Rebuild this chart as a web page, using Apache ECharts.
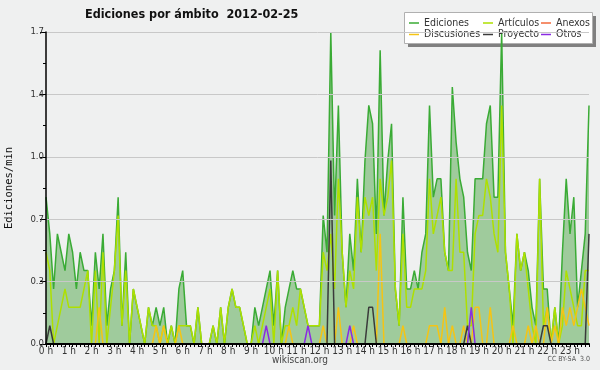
<!DOCTYPE html>
<html><head><meta charset="utf-8">
<script src="https://cdn.jsdelivr.net/npm/echarts@6/dist/echarts.min.js"></script>
<style>
html,body{margin:0;padding:0;background:#efefef;}
#w{position:absolute;left:0;top:0;width:598px;height:368px;border:1px solid #9a9a9a;}
#c{position:absolute;left:-1px;top:-1px;width:600px;height:370px;}
</style></head><body>
<div id="w"><div id="c"></div></div>
<script>
// 10-minute intervals, 144 points for the day (edits per minute)
const hourLabels = ['0 h','1 h','2 h','3 h','4 h','5 h','6 h','7 h','8 h','9 h','10 h','11 h','12 h','13 h','14 h','15 h','16 h','17 h','18 h','19 h','20 h','21 h','22 h','23 h'];
const yTickLabels = ['0.0','0.3','0.7','1.0','1.4','1.7'];
const ediciones = [
0.8,0.6,0.3,0.6,0.5,0.4,0.6,0.5,0.3,0.5,0.4,0.4,
0.1,0.5,0.3,0.6,0.1,0.3,0.4,0.8,0.1,0.5,0,0.3,
0.2,0.1,0,0.2,0.1,0.2,0.1,0.2,0,0.1,0,0.3,
0.4,0.1,0.1,0,0.2,0,0,0,0.1,0,0.2,0,
0.2,0.3,0.2,0.2,0.1,0,0,0.2,0.1,0.2,0.3,0.4,
0.1,0.4,0,0.2,0.3,0.4,0.3,0.3,0.2,0.1,0.1,0.1,
0.1,0.7,0.5,1.7,0.7,1.3,0.5,0.2,0.6,0.4,0.9,0.5,
1.0,1.3,1.2,0.6,1.6,0.7,1.0,1.2,0.3,0.1,0.8,0.3,
0.3,0.4,0.3,0.5,0.6,1.3,0.8,0.9,0.9,0.5,0.4,1.4,
1.1,0.9,0.8,0.5,0.4,0.9,0.9,0.9,1.2,1.3,0.8,0.8,
1.7,0.5,0.3,0.1,0.6,0.4,0.5,0.4,0.2,0.1,0.9,0.3,
0.3,0,0.2,0,0.5,0.9,0.6,0.8,0.2,0.4,0.6,1.3];
const articulos = [
0.5,0.4,0,0.1,0.2,0.3,0.2,0.2,0.2,0.2,0.3,0.4,
0,0.4,0,0.5,0,0.2,0.4,0.7,0.1,0.4,0,0.3,
0.2,0.1,0,0.2,0.1,0.1,0,0.1,0,0.1,0,0.1,
0.1,0.1,0.1,0,0.2,0,0,0,0.1,0,0.2,0,
0.2,0.3,0.2,0.2,0.1,0,0,0.1,0,0.1,0.2,0.3,
0,0.4,0,0.1,0.1,0.2,0.1,0.3,0.2,0.1,0.1,0.1,
0.1,0.5,0.4,0.6,0.3,0.9,0.5,0.2,0.4,0.3,0.8,0.5,
0.8,0.7,0.8,0.4,0.9,0.7,0.8,1.0,0.3,0.1,0.6,0.2,
0.2,0.3,0.3,0.3,0.4,0.9,0.6,0.7,0.8,0.5,0.4,0.4,
0.9,0.5,0.5,0.1,0.1,0.6,0.7,0.7,0.9,0.8,0.6,0.5,
1.3,0.5,0.3,0,0.6,0.4,0.5,0.3,0.1,0,0.9,0.1,
0.2,0,0.2,0,0.1,0.4,0.3,0.2,0.1,0.1,0.4,0.4];
const anexos = [
0,0,0,0,0,0,0,0,0,0,0,0, 0,0,0,0,0,0,0,0,0,0,0,0,
0,0,0,0,0,0,0,0,0,0,0,0, 0,0,0,0,0,0,0,0,0,0,0,0,
0,0,0,0,0,0,0,0,0,0,0,0, 0,0,0,0,0,0,0,0,0,0,0,0,
0,0,0,0,0,0,0,0,0,0,0,0, 0,0,0,0,0,0,0,0,0,0,0,0,
0,0,0,0,0,0,0,0,0,0,0,0, 0,0,0,0,0,0,0,0,0,0,0,0];
const discusiones = [
0,0,0,0,0,0,0,0,0,0,0,0, 0,0,0.2,0,0,0,0,0,0,0,0,0,
0,0,0,0,0,0.1,0,0.1,0,0,0,0.1, 0,0,0,0,0,0,0,0,0,0,0,0,
0,0,0,0,0,0,0,0,0,0,0,0, 0,0,0,0,0.1,0,0,0,0,0,0,0,
0,0.1,0,0,0,0.2,0,0,0,0.1,0,0, 0,0,0,0,0.6,0,0,0,0,0,0.1,0,
0,0,0,0,0,0.1,0.1,0.1,0,0.2,0,0.1, 0,0,0.1,0,0,0.2,0.2,0,0,0.2,0,0,
0,0,0,0.1,0,0,0,0.1,0,0.1,0,0, 0.2,0,0.1,0,0.2,0.1,0.2,0.1,0.2,0.3,0.2,0.1];
const proyecto = [
0,0.1,0,0,0,0,0,0,0,0,0,0, 0,0,0,0,0,0,0,0,0,0,0,0,
0,0,0,0,0,0,0,0,0,0,0,0, 0,0,0,0,0,0,0,0,0,0,0,0,
0,0,0,0,0,0,0,0,0,0,0,0, 0,0,0,0,0,0,0,0,0,0,0,0,
0,0,0,1.0,0,0,0,0,0,0,0,0, 0,0.2,0.2,0,0,0,0,0,0,0,0,0,
0,0,0,0,0,0,0,0,0,0,0,0, 0,0,0,0.1,0,0,0,0,0,0,0,0,
0,0,0,0,0,0,0,0,0,0,0,0.1, 0.1,0,0,0,0,0,0,0,0,0,0,0.6];
const otros = [
0,0,0,0,0,0,0,0,0,0,0,0, 0,0,0,0,0,0,0,0,0,0,0,0,
0,0,0,0,0,0,0,0,0,0,0,0, 0,0,0,0,0,0,0,0,0,0,0,0,
0,0,0,0,0,0,0,0,0,0,0.1,0, 0,0,0,0,0,0,0,0,0,0.1,0,0,
0,0,0,0,0,0,0,0,0.1,0,0,0, 0,0,0,0,0,0,0,0,0,0,0,0,
0,0,0,0,0,0,0,0,0,0,0,0, 0,0,0,0,0.2,0,0,0,0,0,0,0,
0,0,0,0,0,0,0,0,0,0,0,0, 0,0,0,0,0,0,0,0,0,0,0,0];

const names = ['Ediciones','Artículos','Anexos','Discusiones','Proyecto','Otros'];
const colors = ['#3aab35','#aee000','#f26a3c','#f5c414','#3a3a3a','#8a2be2'];
const values = [ediciones, articulos, anexos, discusiones, proyecto, otros];

const chart = echarts.init(document.getElementById('c'), null, {renderer:'canvas'});
const F = '"DejaVu Sans Condensed", "DejaVu Sans", sans-serif';
const series = names.map((n, k) => {
  const s = {
    name: n, type: 'line', data: values[k].map((v, i) => [i, v]),
    symbol: 'none', animation: false, z: 2 + k,
    lineStyle: { color: colors[k], width: 1.5 },
    itemStyle: { color: colors[k] }
  };
  if (k === 0) s.areaStyle = { color: '#9fcb9c', opacity: 1 };
  return s;
});
const legendPos = [[409,17.5],[483,17.5],[541,17.5],[409,29],[483,29],[541,29]];
const legends = names.map((n, k) => ({
  data: [n], left: legendPos[k][0], top: legendPos[k][1], padding: 0,
  icon: 'rect', itemWidth: 10, itemHeight: 1.5, itemGap: 0,
  textStyle: { fontFamily: F, fontSize: 10.5, color: '#333' },
  selectedMode: false
}));
chart.setOption({
  animation: false,
  backgroundColor: '#eff0f0',
  title: { text: 'Ediciones por ámbito  2012-02-25', left: 80, top: 3,
    textStyle: { fontFamily: F, fontSize: 12.5, fontWeight: 'bold', color: '#111' } },
  graphic: [
    { type: 'rect', shape: { x: 408, y: 16, width: 188, height: 31 }, style: { fill: '#808080' }, z: 0 },
    { type: 'rect', shape: { x: 404.5, y: 12.5, width: 188, height: 31 }, style: { fill: '#ffffff', stroke: '#b0b0b0', lineWidth: 1 }, z: 1 },
    { type: 'text', left: 'center', top: 355, style: { text: 'wikiscan.org', fontFamily: F, fontSize: 10, fill: '#444' } },
    { type: 'text', right: 10, top: 356, style: { text: 'CC BY-SA  3.0', fontFamily: F, fontSize: 7, fill: '#555' } }
  ],
  legend: legends,
  grid: { left: 46, right: 11, top: 32, bottom: 26, containLabel: false, outerBoundsMode: 'none' },
  xAxis: {
    type: 'value', min: 0, max: 143, interval: 1, z: 10,
    axisLine: { show: true, onZero: false, lineStyle: { color: '#000', width: 2 } },
    axisTick: { show: true, length: 3, lineStyle: { color: '#000' } },
    splitLine: { show: false },
    axisLabel: { margin: 2, fontFamily: F, fontSize: 10, color: '#333', showMinLabel: true, showMaxLabel: true,
      formatter: v => (v % 6 === 0 ? hourLabels[v / 6] : '') }
  },
  yAxis: {
    type: 'value', min: 0, max: 1.7, interval: 0.34, z: 10,
    name: 'Ediciones/min', nameLocation: 'middle', nameGap: 31, nameRotate: 90,
    nameTextStyle: { fontFamily: 'DejaVu Sans Mono', fontSize: 10.5, color: '#111' },
    axisLine: { show: true, lineStyle: { color: '#000', width: 1.5 } },
    axisTick: { show: true, length: 6, lineStyle: { color: '#000' } },
    minorTick: { show: true, splitNumber: 2, length: 3, lineStyle: { color: '#000' } },
    splitLine: { show: true, lineStyle: { color: '#c8c8c8', width: 1 } },
    axisLabel: { margin: 2, fontFamily: F, fontSize: 9.5, color: '#333',
      formatter: v => yTickLabels[Math.round(v / 0.34)] }
  },
  series: series
});
</script>
</body></html>
